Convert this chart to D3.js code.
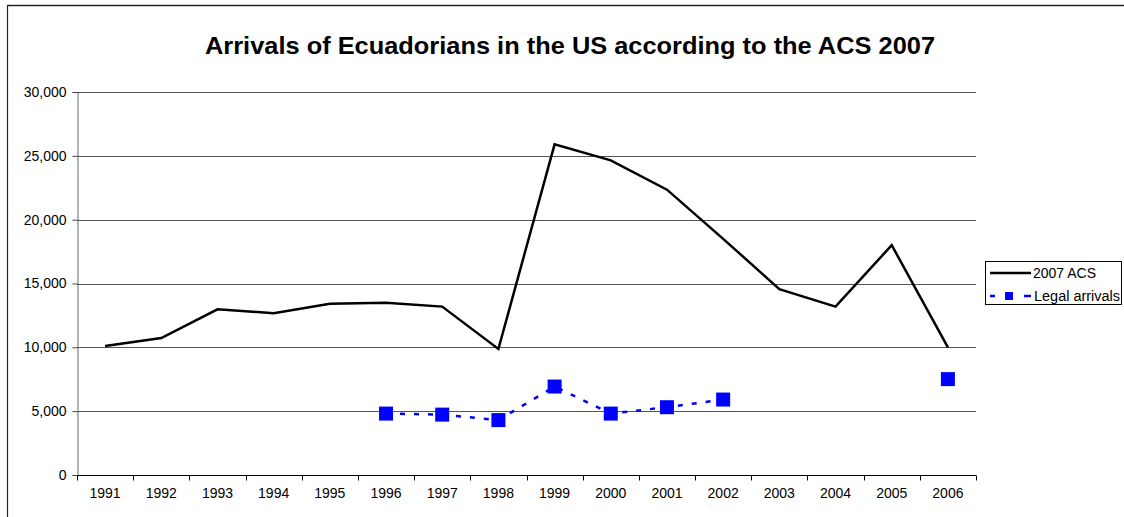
<!DOCTYPE html>
<html>
<head>
<meta charset="utf-8">
<script src="https://cdn.jsdelivr.net/npm/d3@7"></script>
<style>
  body { margin: 0; background: #fff; }
  svg { display: block; font-family: "Liberation Sans", Arial, sans-serif; }
</style>
</head>
<body>
<svg id="chart" width="1124" height="517"></svg>
<script>
const years = ["1991","1992","1993","1994","1995","1996","1997","1998","1999","2000","2001","2002","2003","2004","2005","2006"];
const acs2007 = [10100, 10730, 12980, 12670, 13420, 13500, 13190, 9870, 25900, 24650, 22350, 18500, 14560, 13190, 18000, 10000];
const legalArrivals = [null, null, null, null, null, 4810, 4730, 4300, 6930, 4810, 5310, 5910, null, null, null, 7510];
const yTicks = [0, 5000, 10000, 15000, 20000, 25000, 30000];
const titleText = "Arrivals of Ecuadorians in the US according to the ACS 2007";
const seriesNames = ["2007 ACS", "Legal arrivals"];

const svg = d3.select("#chart");
const margin = { left: 77, right: 976, top: 92, bottom: 475 };

// outer frame
svg.append("line").attr("x1", 7.5).attr("x2", 1124).attr("y1", 5.5).attr("y2", 5.5).attr("stroke", "#222").attr("stroke-width", 1.5);
svg.append("line").attr("x1", 7.5).attr("x2", 7.5).attr("y1", 5).attr("y2", 517).attr("stroke", "#222").attr("stroke-width", 1.2);

const x = d3.scaleBand().domain(years).range([margin.left, margin.right]);
const y = d3.scaleLinear().domain([0, 30000]).range([margin.bottom, margin.top]);
const cx = d => x(d) + x.bandwidth() / 2;

// title
svg.append("text").attr("x", 570).attr("y", 54).attr("text-anchor", "middle")
  .attr("font-size", 24).attr("font-weight", "bold").attr("textLength", 730)
  .attr("lengthAdjust", "spacingAndGlyphs").text(titleText);

// gridlines
svg.append("g").selectAll("line").data(yTicks.filter(t => t > 0)).join("line")
  .attr("x1", margin.left).attr("x2", margin.right)
  .attr("y1", d => Math.round(y(d)) + 0.5).attr("y2", d => Math.round(y(d)) + 0.5)
  .attr("stroke", "#555").attr("stroke-width", 1);

// y axis
const yAxis = d3.axisLeft(y).tickValues(yTicks).tickSize(5).tickFormat(d3.format(","));
const gy = svg.append("g").attr("transform", `translate(${margin.left + 0.5},0)`).call(yAxis);
gy.select(".domain").attr("stroke", "#666");
gy.selectAll(".tick line").attr("stroke", "#444");
gy.selectAll("text").attr("font-size", 14).attr("fill", "#000").attr("x", -11)
  .style("font-family", "'Liberation Sans', Arial, sans-serif");

// x axis
const gx = svg.append("g").attr("transform", `translate(0,${margin.bottom + 0.5})`)
  .call(d3.axisBottom(x).tickSize(0).tickPadding(13));
gx.select(".domain").remove();
gx.append("line").attr("x1", margin.left).attr("x2", margin.right).attr("y1", 0).attr("y2", 0).attr("stroke", "#000");
const boundaries = years.map(d => x(d)).concat([margin.right]);
gx.selectAll(".bnd").data(boundaries).join("line").attr("class", "bnd")
  .attr("x1", d => Math.round(d) + 0.5).attr("x2", d => Math.round(d) + 0.5)
  .attr("y1", 0).attr("y2", 5).attr("stroke", "#000");
gx.selectAll("text").attr("font-size", 14).attr("fill", "#000")
  .style("font-family", "'Liberation Sans', Arial, sans-serif");

// ACS line
const line = d3.line().defined(d => d[1] != null).x(d => cx(d[0])).y(d => y(d[1]));
svg.append("path").datum(years.map((yr, i) => [yr, acs2007[i]]))
  .attr("d", line).attr("fill", "none").attr("stroke", "#000").attr("stroke-width", 2.5)
  .attr("stroke-linejoin", "miter");

// Legal arrivals
const legalData = years.map((yr, i) => [yr, legalArrivals[i]]);
svg.append("path").datum(legalData)
  .attr("d", line).attr("fill", "none").attr("stroke", "#0000ff").attr("stroke-width", 2.5)
  .attr("stroke-dasharray", "5,9");
const ms = 14;
svg.append("g").selectAll("rect").data(legalData.filter(d => d[1] != null)).join("rect")
  .attr("x", d => cx(d[0]) - ms / 2).attr("y", d => y(d[1]) - ms / 2)
  .attr("width", ms).attr("height", ms).attr("fill", "#0000ff");

// legend
const lg = svg.append("g");
lg.append("rect").attr("x", 985.5).attr("y", 261.5).attr("width", 136).attr("height", 43)
  .attr("fill", "#fff").attr("stroke", "#000").attr("stroke-width", 1);
lg.append("line").attr("x1", 990).attr("x2", 1031).attr("y1", 273).attr("y2", 273)
  .attr("stroke", "#000").attr("stroke-width", 2.5);
lg.append("text").attr("x", 1033).attr("y", 278).attr("font-size", 14).text(seriesNames[0]);
lg.append("line").attr("x1", 990).attr("x2", 1031).attr("y1", 296).attr("y2", 296)
  .attr("stroke", "#0000ff").attr("stroke-width", 2.5).attr("stroke-dasharray", "5,29,7");
lg.append("rect").attr("x", 1005).attr("y", 292).attr("width", 8).attr("height", 8).attr("fill", "#0000ff");
lg.append("text").attr("x", 1034).attr("y", 301).attr("font-size", 14).attr("textLength", 86)
  .attr("lengthAdjust", "spacingAndGlyphs").text(seriesNames[1]);
</script>
</body>
</html>
